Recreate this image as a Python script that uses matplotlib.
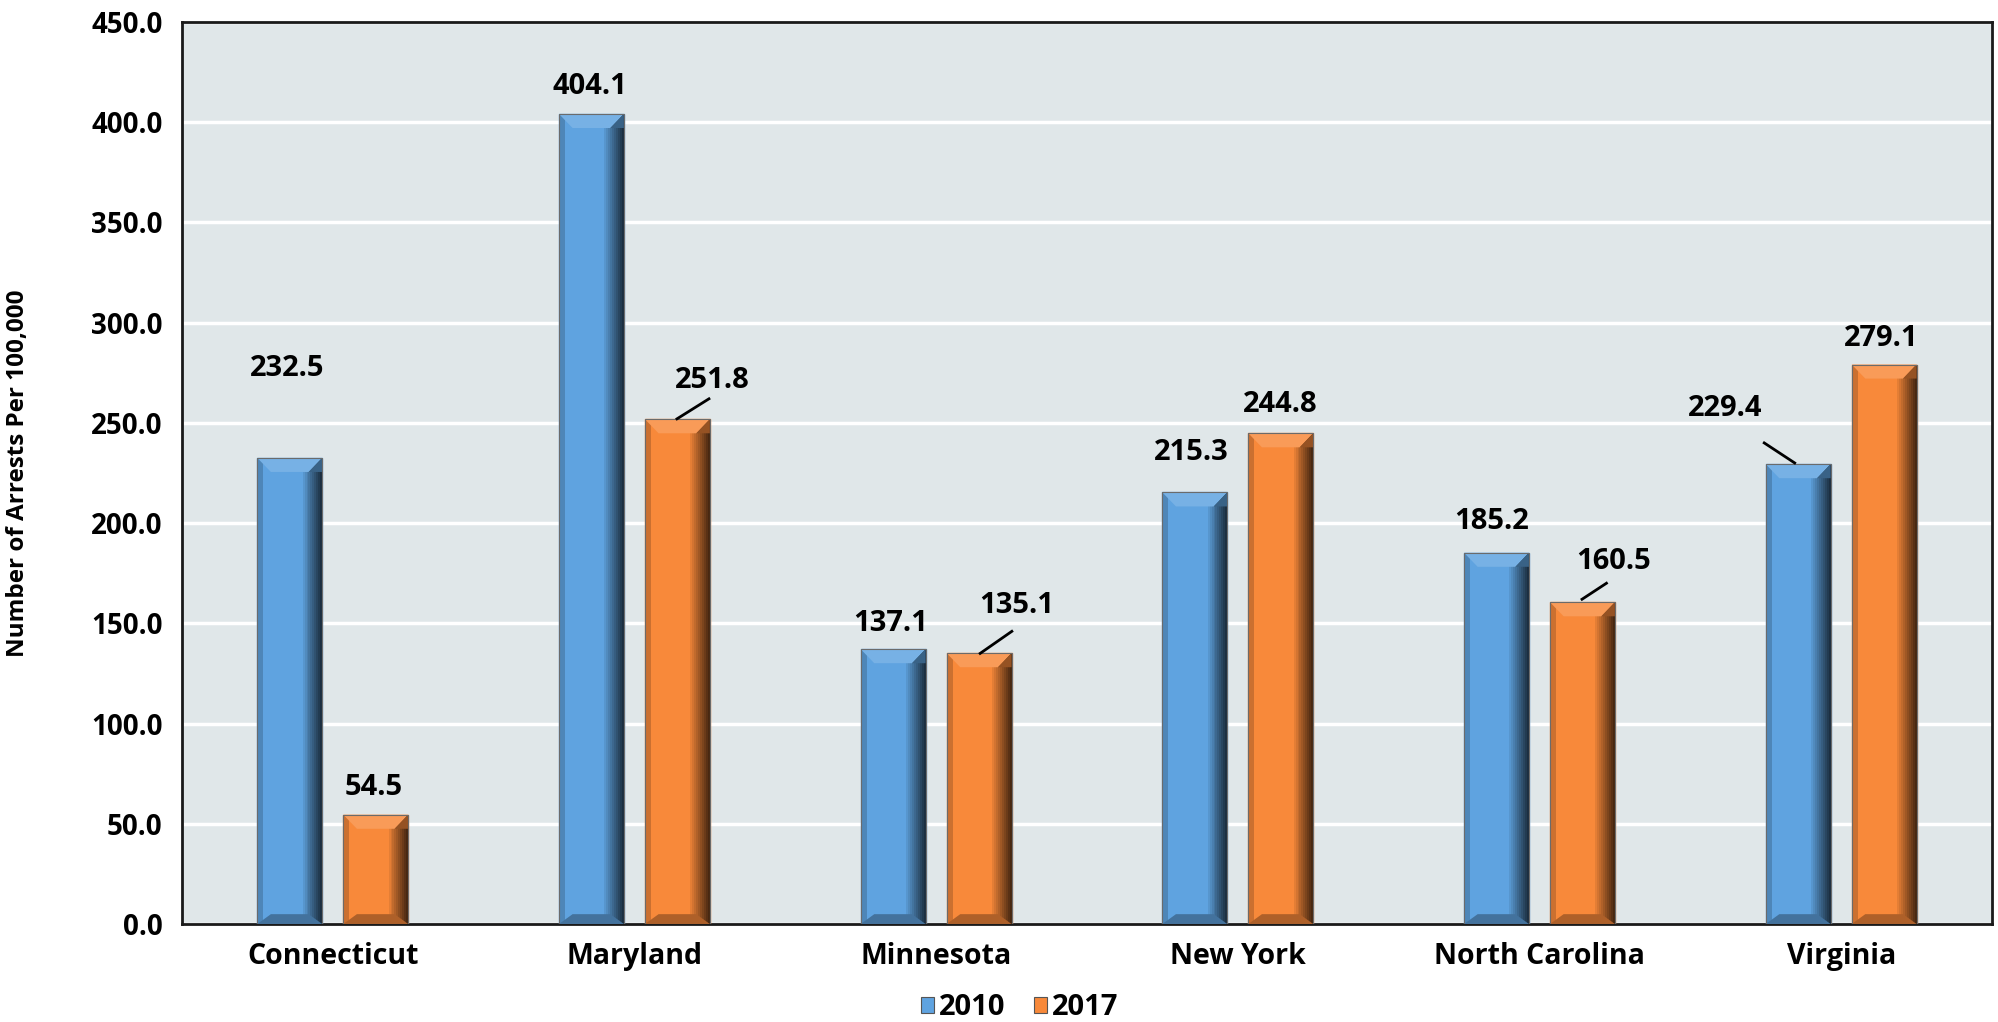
import numpy as np
import matplotlib
matplotlib.use("Agg")
import matplotlib.pyplot as plt
from matplotlib.patches import Polygon, Rectangle
from matplotlib.colors import to_rgb

plt.rcParams['font.family'] = ['Open Sans', 'DejaVu Sans']
plt.rcParams['font.weight'] = 'bold'

# data
states = ["Connecticut", "Maryland", "Minnesota", "New York", "North Carolina", "Virginia"]
arrests_2010 = [232.5, 404.1, 137.1, 215.3, 185.2, 229.4]
arrests_2017 = [54.5, 251.8, 135.1, 244.8, 160.5, 279.1]
series_names = ["2010", "2017"]

# label positions (x offset from category, y) and leader lines
lbl_2010 = [(-0.15, 277), (-0.146, 418), (-0.15, 150), (-0.154, 235), (-0.158, 201), (-0.386, 257)]
lbl_2017 = [(0.137, 68), (0.259, 271), (0.268, 159), (0.141, 259), (0.247, 181), (0.133, 292)]
lead_2010 = [None, None, None, None, None, ((-0.154, 230), (-0.255, 240))]
lead_2017 = [None, ((0.141, 252), (0.247, 262)), ((0.146, 135), (0.251, 146)), None,
             ((0.141, 162), (0.222, 170)), None]

blue = "#5fa3e0"
orange = "#f8893a"
bg = "#e0e7e9"


def shade(c, f):
    r = np.array(to_rgb(c))
    if f < 0:
        return tuple(r * (1 + f))
    return tuple(r + (1 - r) * f)


def bevel_bar(ax, xc, h, w, color):
    x0, x1 = xc - w / 2, xc + w / 2
    bx, by = 0.045, 7
    ax.add_patch(Rectangle((x0, 0), w, h, color=color, zorder=3))
    # right side dark gradient
    n = 10
    gw = 0.065
    for k in range(n):
        sw = gw / n
        ax.add_patch(Rectangle((x1 - gw + k * sw, 0), sw, h,
                               color=shade(color, -0.08 - 0.7 * k / n), lw=0, zorder=3))
    # left side slight darkening
    ax.add_patch(Rectangle((x0, 0), 0.02, h, color=shade(color, -0.18), lw=0, zorder=3))
    # top bevel
    ax.add_patch(Polygon([(x0, h), (x1, h), (x1 - bx, h - by), (x0 + bx, h - by)],
                         closed=True, color=shade(color, 0.15), lw=0, zorder=4))
    ax.add_patch(Polygon([(x1, h), (x1 - bx, h - by), (x1, h - by)],
                         closed=True, color=shade(color, -0.4), lw=0, zorder=4))
    # bottom bevel
    ax.add_patch(Polygon([(x0, 0), (x1, 0), (x1 - bx, by * 0.7), (x0 + bx, by * 0.7)],
                         closed=True, color=shade(color, -0.3), lw=0, zorder=4))
    ax.add_patch(Rectangle((x0, 0), w, h, fill=False, ec="#6b6b6b", lw=0.8, zorder=5))


fig = plt.figure(figsize=(19.99, 10.22), dpi=100)
ax = fig.add_axes([0.091, 0.0959, 0.9055, 0.8826])
ax.set_facecolor(bg)

x = np.arange(len(states))
w = 0.215
off = 0.1425
for i in range(len(states)):
    bevel_bar(ax, x[i] - off, arrests_2010[i], w, blue)
    bevel_bar(ax, x[i] + off, arrests_2017[i], w, orange)

for i in range(len(states)):
    for vals, lbl, lead in ((arrests_2010, lbl_2010, lead_2010), (arrests_2017, lbl_2017, lead_2017)):
        dx, ly = lbl[i]
        ax.text(x[i] + dx, ly, f"{vals[i]:.1f}", ha="center", va="center",
                fontsize=21, fontweight="bold", zorder=6)
        if lead[i] is not None:
            (ax1, ay1), (ax2, ay2) = lead[i]
            ax.plot([x[i] + ax1, x[i] + ax2], [ay1, ay2], color="black", lw=2, zorder=6)

ax.set_xlim(-0.5, len(states) - 0.5)
ax.set_ylim(0, 450)
ax.set_yticks(np.arange(0, 451, 50))
ax.set_yticklabels([f"{v:.1f}" for v in np.arange(0, 451, 50)], fontsize=20, fontweight="bold")
ax.set_xticks(x)
ax.set_xticklabels(states, fontsize=20.5, fontweight="bold")
ax.tick_params(axis="both", length=0, pad=14)
ax.tick_params(axis="x", pad=13)
ax.yaxis.grid(True, color="white", lw=2.5, zorder=1)
ax.set_axisbelow(True)
for s in ax.spines.values():
    s.set_color("#1a1a1a")
    s.set_linewidth(2)

ax.set_ylabel("Number of Arrests Per 100,000", fontsize=17.5, fontweight="bold", labelpad=44)

h1 = Rectangle((0, 0), 1, 1, fc=blue, ec="#555555", lw=0.8)
h2 = Rectangle((0, 0), 1, 1, fc=orange, ec="#555555", lw=0.8)
fig.legend([h1, h2], series_names, loc="center", bbox_to_anchor=(0.51, 0.014), ncol=2,
           frameon=False, handlelength=0.45, handleheight=0.45,
           handletextpad=0.15, columnspacing=1.0, prop={"weight": "bold", "size": 21})

fig.savefig("out.png", dpi=100)
